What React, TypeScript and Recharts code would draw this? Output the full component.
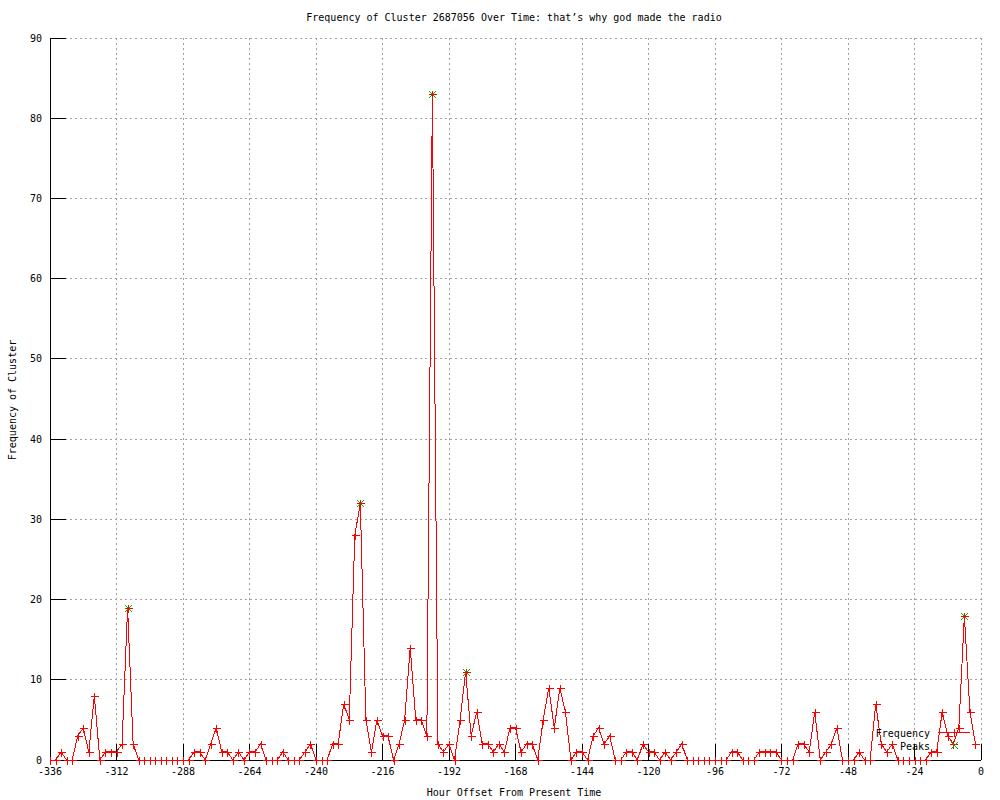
import React from 'react';
import { LineChart, Line, XAxis, YAxis, CartesianGrid } from 'recharts';

const FONT = '"DejaVu Sans Mono", "Liberation Mono", monospace';

const hours = [
  -336, -334, -332, -330, -328, -326, -324, -322, -320, -318, -316, -314,
  -312, -310, -308, -306, -304, -302, -300, -298, -296, -294, -292, -290,
  -288, -286, -284, -282, -280, -278, -276, -274, -272, -270, -268, -266,
  -264, -262, -260, -258, -256, -254, -252, -250, -248, -246, -244, -242,
  -240, -238, -236, -234, -232, -230, -228, -226, -224, -222, -220, -218,
  -216, -214, -212, -210, -208, -206, -204, -202, -200, -198, -196, -194,
  -192, -190, -188, -186, -184, -182, -180, -178, -176, -174, -172, -170,
  -168, -166, -164, -162, -160, -158, -156, -154, -152, -150, -148, -146,
  -144, -142, -140, -138, -136, -134, -132, -130, -128, -126, -124, -122,
  -120, -118, -116, -114, -112, -110, -108, -106, -104, -102, -100, -98,
  -96, -94, -92, -90, -88, -86, -84, -82, -80, -78, -76, -74,
  -72, -70, -68, -66, -64, -62, -60, -58, -56, -54, -52, -50,
  -48, -46, -44, -42, -40, -38, -36, -34, -32, -30, -28, -26,
  -24, -22, -20, -18, -16, -14, -12, -10, -8, -6, -4, -2,
];

const frequency = [
  0, 0, 1, 0, 0, 3, 4, 1, 8, 0, 1, 1,
  1, 2, 19, 2, 0, 0, 0, 0, 0, 0, 0, 0,
  0, 0, 1, 1, 0, 2, 4, 1, 1, 0, 1, 0,
  1, 1, 2, 0, 0, 0, 1, 0, 0, 0, 1, 2,
  0, 0, 0, 2, 2, 7, 5, 28, 32, 5, 1, 5,
  3, 3, 0, 2, 5, 14, 5, 5, 3, 83, 2, 1,
  2, 0, 5, 11, 3, 6, 2, 2, 1, 2, 1, 4,
  4, 1, 2, 2, 0, 5, 9, 4, 9, 6, 0, 1,
  1, 0, 3, 4, 2, 3, 0, 0, 1, 1, 0, 2,
  1, 1, 0, 1, 0, 1, 2, 0, 0, 0, 0, 0,
  0, 0, 0, 1, 1, 0, 0, 0, 1, 1, 1, 1,
  0, 0, 0, 2, 2, 1, 6, 0, 1, 2, 4, 0,
  0, 0, 1, 0, 0, 7, 2, 1, 2, 0, 0, 0,
  0, 0, 0, 1, 1, 6, 3, 2, 4, 18, 6, 2,
];

const peakHours = [-308, -224, -198, -186, -6];
const peakValues = [19, 32, 83, 11, 18];

const xTicks = [-336, -312, -288, -264, -240, -216, -192, -168, -144, -120, -96, -72, -48, -24, 0];
const yTicks = [0, 10, 20, 30, 40, 50, 60, 70, 80, 90];

const titleText = 'Frequency of Cluster 2687056 Over Time: that\u2019s why god made the radio';
const xLabel = 'Hour Offset From Present Time';
const yLabel = 'Frequency of Cluster';
const legendNames = ['Frequency', 'Peaks'];

const RED = '#ff0000';
const GREEN = '#00b000';

const data = hours.map((h, i) => {
  const pi = peakHours.indexOf(h);
  return { hour: h, freq: frequency[i], peak: pi >= 0 ? peakValues[pi] : null };
});

const PlusDot = (props: any) => {
  const { cx, cy } = props;
  if (cx == null || cy == null || isNaN(cy)) return <g />;
  const x = Math.round(cx) + 0.5;
  const y = Math.round(cy) + 0.5;
  return (
    <g>
      <line x1={x - 4} x2={x + 4} y1={y} y2={y} stroke={RED} strokeWidth={1} />
      <line x1={x} x2={x} y1={y - 4} y2={y + 4} stroke={RED} strokeWidth={1} />
    </g>
  );
};

const CrossDot = (props: any) => {
  const { cx, cy, value } = props;
  if (value == null || cx == null || cy == null || isNaN(cy)) return <g />;
  const x = Math.round(cx) + 0.5;
  const y = Math.round(cy) + 0.5;
  return (
    <g>
      <line x1={x - 3.5} x2={x + 3.5} y1={y - 3.5} y2={y + 3.5} stroke={GREEN} strokeWidth={1} />
      <line x1={x - 3.5} x2={x + 3.5} y1={y + 3.5} y2={y - 3.5} stroke={GREEN} strokeWidth={1} />
    </g>
  );
};

const noTick = () => <g />;

export default function App() {
  const tickStyle = { fill: '#000', fontSize: 10, fontFamily: FONT };
  return (
    <div style={{ position: 'absolute', left: 0, top: 0, width: 1000, height: 800, background: '#fff', fontFamily: FONT }}>
      <style>{`.gchart svg line, .gchart svg path { shape-rendering: crispEdges; }`}</style>
      <div className="gchart" style={{ position: 'absolute', left: 0, top: 0 }}>
        <LineChart width={1000} height={800} data={data} margin={{ top: 38, right: 19, bottom: 0, left: 0 }}>
          <CartesianGrid xAxisId="b" yAxisId="l" stroke="#a0a0a0" strokeDasharray="2 3" />
          <XAxis
            xAxisId="b"
            dataKey="hour"
            type="number"
            domain={[-336, 0]}
            ticks={xTicks}
            interval={0}
            height={40}
            tickSize={-16}
            tickMargin={24}
            tick={tickStyle}
            stroke="#000"
            tickLine={{ stroke: '#000' }}
            axisLine={{ stroke: '#000' }}
            allowDataOverflow
          />
          <XAxis
            xAxisId="t"
            orientation="top"
            dataKey="hour"
            type="number"
            domain={[-336, 0]}
            ticks={xTicks}
            interval={0}
            height={0}
            tickSize={-16}
            tick={noTick}
            stroke="#000"
            tickLine={{ stroke: '#000' }}
            axisLine={{ stroke: '#000' }}
          />
          <YAxis
            yAxisId="l"
            type="number"
            domain={[0, 90]}
            ticks={yTicks}
            interval={0}
            width={50}
            tickSize={-16}
            tickMargin={24}
            tick={tickStyle}
            stroke="#000"
            tickLine={{ stroke: '#000' }}
            axisLine={{ stroke: '#000' }}
          />
          <YAxis
            yAxisId="r"
            orientation="right"
            type="number"
            domain={[0, 90]}
            ticks={yTicks}
            interval={0}
            width={0}
            tickSize={-16}
            tick={noTick}
            stroke="#000"
            tickLine={{ stroke: '#000' }}
            axisLine={{ stroke: '#000' }}
          />
          <Line
            xAxisId="b"
            yAxisId="l"
            type="linear"
            dataKey="peak"
            stroke="none"
            dot={<CrossDot />}
            activeDot={false}
            isAnimationActive={false}
            connectNulls={false}
          />
          <Line
            xAxisId="b"
            yAxisId="l"
            type="linear"
            dataKey="freq"
            stroke={RED}
            strokeWidth={1}
            dot={<PlusDot />}
            activeDot={false}
            isAnimationActive={false}
          />
        </LineChart>
      </div>
      <div style={{ position: 'absolute', left: 514, top: 12, transform: 'translateX(-50%)', fontSize: 10, lineHeight: '12px', whiteSpace: 'pre', color: '#000' }}>
        {titleText}
      </div>
      <div style={{ position: 'absolute', left: 514, top: 787, transform: 'translateX(-50%)', fontSize: 10, lineHeight: '12px', whiteSpace: 'pre', color: '#000' }}>
        {xLabel}
      </div>
      <div style={{ position: 'absolute', left: 13, top: 400, transform: 'translate(-50%, -50%) rotate(-90deg)', fontSize: 10, lineHeight: '12px', whiteSpace: 'pre', color: '#000' }}>
        {yLabel}
      </div>
      <svg width={1000} height={800} style={{ position: 'absolute', left: 0, top: 0, pointerEvents: 'none' }} shapeRendering="crispEdges">
        <text x={930} y={736.5} textAnchor="end" fontSize={10} fontFamily={FONT} fill="#000">{legendNames[0]}</text>
        <line x1={938} x2={970} y1={732.5} y2={732.5} stroke={RED} />
        <line x1={950} x2={958} y1={732.5} y2={732.5} stroke={RED} />
        <line x1={954.5} x2={954.5} y1={728.5} y2={736.5} stroke={RED} />
        <text x={930} y={749.5} textAnchor="end" fontSize={10} fontFamily={FONT} fill="#000">{legendNames[1]}</text>
        <line x1={951} x2={958} y1={742} y2={749} stroke={GREEN} />
        <line x1={951} x2={958} y1={749} y2={742} stroke={GREEN} />
      </svg>
    </div>
  );
}
